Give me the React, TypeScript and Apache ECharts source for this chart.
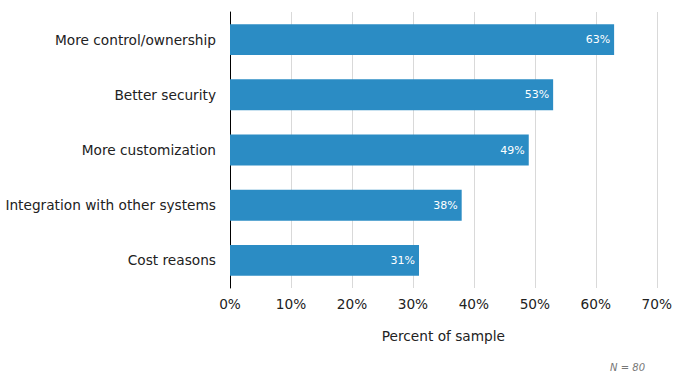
import React, { useEffect, useRef } from "react";
import * as echarts from "echarts";

const categories = [
  "More control/ownership",
  "Better security",
  "More customization",
  "Integration with other systems",
  "Cost reasons",
];
const values = [63, 53, 49, 38, 31];
const xTicks = [0, 10, 20, 30, 40, 50, 60, 70];

export default function App() {
  const ref = useRef<HTMLDivElement>(null);
  useEffect(() => {
    const chart = echarts.init(ref.current!, null, { renderer: "svg" });
    const font = "DejaVu Sans, Verdana, sans-serif";
    chart.setOption({
      animation: false,
      textStyle: { fontFamily: font },
      grid: { left: 230, right: 18, top: 12, bottom: 104, containLabel: false },
      xAxis: {
        type: "value",
        min: xTicks[0],
        max: xTicks[xTicks.length - 1],
        interval: 10,
        axisLine: { show: false },
        axisTick: { show: false },
        splitLine: { show: true, lineStyle: { color: "#d9d9d9", width: 1 } },
        axisLabel: {
          formatter: (v: number) => v + "%",
          color: "#222",
          fontSize: 13.7,
          fontFamily: font,
          margin: 9,
        },
        name: "Percent of sample",
        nameLocation: "middle",
        nameGap: 41,
        nameTextStyle: { color: "#222", fontSize: 13.7, fontFamily: font },
      },
      yAxis: {
        type: "category",
        data: categories,
        inverse: true,
        axisLine: { show: true, lineStyle: { color: "#000", width: 1 } },
        axisTick: { show: false },
        axisLabel: { color: "#222", fontSize: 13.7, fontFamily: font, margin: 14 },
      },
      series: [
        {
          type: "bar",
          data: values,
          barCategoryGap: "44%",
          itemStyle: { color: "#2b8cc4" },
          label: {
            show: true,
            position: "insideRight",
            formatter: "{c}%",
            color: "#fff",
            fontSize: 11,
            fontFamily: font,
            distance: 4,
          },
        },
      ],
      graphic: [
        {
          type: "text",
          right: 30,
          top: 362,
          style: {
            text: "N = 80",
            fill: "#777",
            font: "italic 10px " + font,
          },
        },
      ],
    });
    return () => chart.dispose();
  }, []);
  return (
    <div
      ref={ref}
      style={{ position: "absolute", left: 0, top: 0, width: 675, height: 392 }}
    />
  );
}
